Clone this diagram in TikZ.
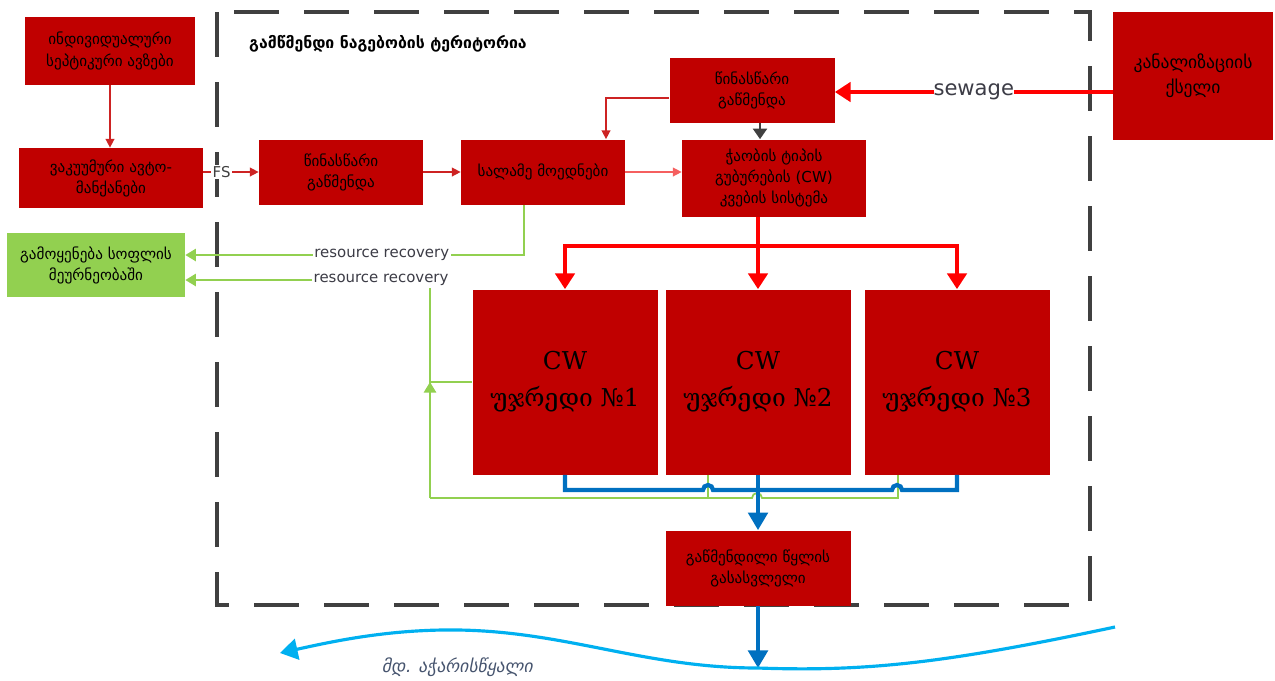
\documentclass[tikz,border=0pt]{standalone}
\usepackage{fontspec}
\setmainfont{DejaVu Sans}
\newfontfamily\cellfont{DejaVu Serif}
\newfontfamily\riverfont[FakeSlant=0.2]{DejaVu Sans}
\usetikzlibrary{arrows.meta}
\definecolor{boxred}{RGB}{192,0,0}
\definecolor{linkred}{RGB}{205,35,35}
\definecolor{lightred}{RGB}{245,95,95}
\definecolor{feedred}{RGB}{255,0,0}
\definecolor{agrigreen}{RGB}{146,208,80}
\definecolor{pipeblue}{RGB}{0,112,192}
\definecolor{riverblue}{RGB}{0,176,240}
\definecolor{framegray}{RGB}{64,64,64}
\definecolor{labelgray}{RGB}{60,60,70}
\definecolor{riverlabel}{RGB}{70,84,110}
\begin{document}
\begin{tikzpicture}[x=0.2mm,y=-0.2mm]
        \tikzstyle{box}=[fill=boxred,text=black,align=center,inner sep=0pt,font=\fontsize{8.6}{12}\selectfont];
        \tikzstyle{greenbox}=[box,fill=agrigreen];
        \tikzstyle{cell}=[box,minimum width=37mm,minimum height=37mm,font=\cellfont\fontsize{14}{21}\selectfont];
        \tikzstyle{link}=[linkred,line width=0.8pt,-{Triangle[width=5pt,length=5pt]}];
        \tikzstyle{feedline}=[feedred,line width=2.2pt,-{Triangle[width=11pt,length=9pt]}];
        \tikzstyle{reuse}=[agrigreen,line width=1pt];
        \tikzstyle{pipe}=[pipeblue,line width=2.4pt];
        \tikzstyle{tag}=[fill=white,inner sep=1pt,text=labelgray,font=\fontsize{8.5}{10}\selectfont];
        \useasboundingbox (0,0) rectangle (1275,680);
        % territory of the plant
        \draw[framegray,line width=2.4pt,dash pattern=on 9mm off 5mm] (217,12) rectangle (1090,605);
        \node[anchor=west,font=\bfseries\fontsize{9}{11}\selectfont] (title) at (243,44) {გამწმენდი ნაგებობის ტერიტორია};
        \node[box,minimum width=34mm,minimum height=13.6mm] (septic) at (110,51) {ინდივიდუალური\\სეპტიკური ავზები};
        \node[box,minimum width=36.8mm,minimum height=12mm] (vacuum) at (111,178) {ვაკუუმური ავტო-\\მანქანები};
        \node[box,minimum width=32.8mm,minimum height=13mm] (pre1) at (341,172) {წინასწარი\\გაწმენდა};
        \node[box,minimum width=32.8mm,minimum height=13mm] (beds) at (543,172) {სალამე მოედნები};
        \node[box,minimum width=33mm,minimum height=13mm] (pre2) at (752,90) {წინასწარი\\გაწმენდა};
        \node[box,minimum width=36.8mm,minimum height=15.4mm] (feed) at (774,178) {ჭაობის ტიპის\\გუბურების (CW)\\კვების სისტემა};
        \node[box,minimum width=32mm,minimum height=25.6mm,font=\fontsize{10}{14}\selectfont] (sewer) at (1193,76) {კანალიზაციის\\ქსელი};
        \node[greenbox,minimum width=35.6mm,minimum height=12.8mm] (agri) at (96,265) {გამოყენება სოფლის\\მეურნეობაში};
        \node[cell] (cw1) at (565,382) {CW\\უჯრედი №1};
        \node[cell] (cw2) at (758,382) {CW\\უჯრედი №2};
        \node[cell] (cw3) at (957,382) {CW\\უჯრედი №3};
        \node[box,minimum width=37mm,minimum height=15mm] (outlet) at (758,568) {გაწმენდილი წყლის\\გასასვლელი};
        \coordinate (split) at (758,246);
        \coordinate (loop) at (430,498);
        \coordinate (mouth) at (758,668);
        % sludge line
        \draw[link] (septic.south) -- (septic.south |- vacuum.north);
        \draw[link] (pre1.west -| vacuum.east) -- node[tag,pos=0.33,text=framegray] {FS} (pre1.west);
        \draw[link] (pre1) -- (beds);
        \draw[link,lightred] (beds.east) -- (beds.east -| feed.west);
        \draw[link] ([yshift=-1.6mm]pre2.west) -| ([xshift=12.6mm]beds.north);
        \draw[framegray,line width=1.2pt,-{Triangle[width=8pt,length=6pt]}] ([xshift=1.6mm]pre2.south) -- ([xshift=1.6mm]pre2.south |- feed.north);
        % sewage
        \draw[feedline] (sewer.west |- 0,92) -- node[tag,font=\fontsize{12}{14}\selectfont,inner sep=0pt] {sewage} (pre2.east |- 0,92);
        \draw[feedline] (feed.south -| split) -- (cw2.north);
        \draw[feedline] (split) -| (cw1.north);
        \draw[feedline] (split) -| (cw3.north);
        % resource recovery
        \draw[reuse,-{Triangle[width=7pt,length=6pt]}] ([xshift=-3.8mm]beds.south) |- node[tag,pos=0.71] {resource recovery} ([yshift=2mm]agri.east);
        \draw[reuse,-{Triangle[width=7pt,length=6pt]}] (loop) |- node[tag,pos=0.6] {resource recovery} ([yshift=-3mm]agri.east);
        \draw[reuse,-{Triangle[width=7pt,length=6pt]}] (loop) -- (loop |- cw1.west);
        \draw[reuse] (cw1.west) -- (cw1.west -| loop);
        \draw[reuse] (loop) -- (752,498) arc[start angle=180,end angle=0,radius=1mm] -- (898,498) -- (898,475);
        \draw[reuse] ([xshift=-10mm]cw2.south) -- ++(0,23);
        % treated water
        \draw[pipe] (cw1.south) |- (703,490) arc[start angle=180,end angle=0,radius=1mm] -- (892,490) arc[start angle=180,end angle=0,radius=1mm] -| (cw3.south);
        \draw[pipe,-{Triangle[width=11pt,length=10pt]}] (cw2.south) -- (outlet.north);
        \draw[pipe,-{Triangle[width=11pt,length=10pt]}] (outlet.south) -- (mouth);
        % river
        \draw[riverblue,line width=1.8pt,-{Triangle[width=12pt,length=10pt]}] (1115,627) .. controls (950,662) and (870,672) .. (mouth) .. controls (640,668) and (560,628) .. (442,630) .. controls (380,631) and (330,642) .. (280,653);
        \node[font=\riverfont\fontsize{10}{12}\selectfont,text=riverlabel] (rivername) at (457,667) {მდ. აჭარისწყალი};
      \end{tikzpicture}
\end{document}
